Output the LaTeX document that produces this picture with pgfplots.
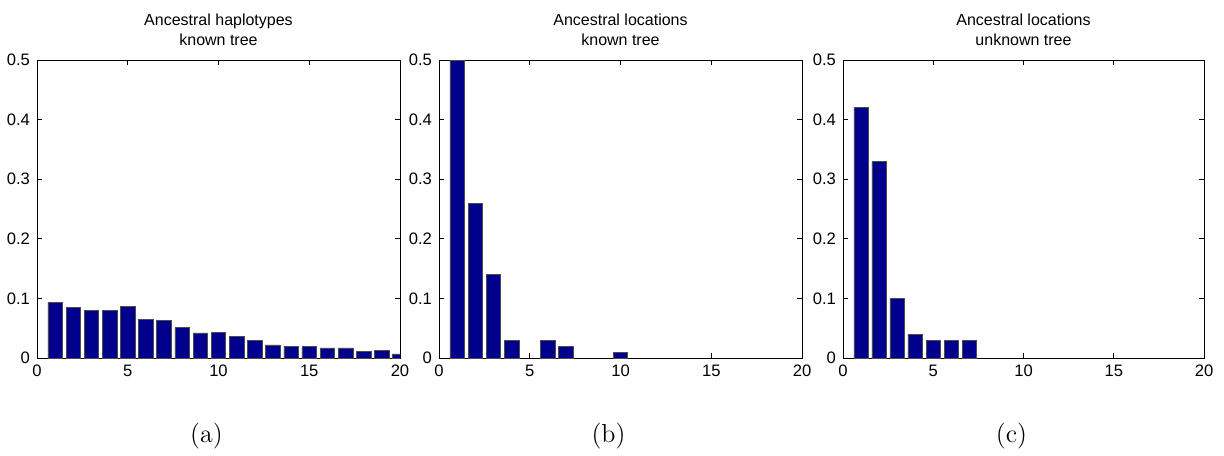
\documentclass[border=0pt]{standalone}
\usepackage{fontspec}
\newfontfamily\arial{Liberation Sans}
\usepackage{pgfplots}
\pgfplotsset{compat=1.18}

\definecolor{barblue}{RGB}{0,0,140}

\pgfplotsset{
  histo/.style={
    scale only axis,
    width=181.5pt, height=149pt,
    xmin=0, xmax=20, ymin=0, ymax=0.5,
    xtick={0,5,10,15,20},
    ytick={0,0.1,0.2,0.3,0.4,0.5},
    tick align=inside,
    major tick length=2.5pt,
    axis line style={line width=0.5pt},
    every tick/.style={black, line width=0.4pt},
    tick label style={font=\arial\fontsize{8.3}{9}\selectfont},
    /pgf/number format/assume math mode=true,
    yticklabel style={/pgf/number format/fixed, /pgf/number format/precision=1},
    title style={align=center, font=\arial\fontsize{8}{10}\selectfont,
      at={(0.5,1)}, anchor=south, inner sep=0pt, yshift=1pt},
    xlabel style={font=\fontsize{13}{15}\selectfont,
      at={(axis description cs:0.5,0)}, anchor=center, yshift=-39pt, xshift=-6pt},
  },
  hbar/.style={ybar, bar width=0.8, fill=barblue, draw=black!70, line width=0.3pt},
}

\begin{document}
\begin{tikzpicture}
\path[use as bounding box] (0,0) rectangle (612pt,227.5pt);

\begin{axis}[histo, at={(18.5pt,48.5pt)}, anchor=south west,
  title={Ancestral haplotypes\\known tree}, xlabel={(a)}]
\addplot[hbar] coordinates {
  (1,0.093) (2,0.085) (3,0.080) (4,0.080) (5,0.086)
  (6,0.065) (7,0.063) (8,0.051) (9,0.042) (10,0.043)
  (11,0.036) (12,0.029) (13,0.022) (14,0.020) (15,0.019)
  (16,0.017) (17,0.017) (18,0.011) (19,0.013) (20,0.007)};
\end{axis}

\begin{axis}[histo, at={(219.5pt,48.5pt)}, anchor=south west,
  title={Ancestral locations\\known tree}, xlabel={(b)}]
\addplot[hbar] coordinates {
  (1,0.50) (2,0.26) (3,0.14) (4,0.03) (6,0.03) (7,0.02) (10,0.01)};
\end{axis}

\begin{axis}[histo, width=180.5pt, at={(421.5pt,48.5pt)}, anchor=south west,
  title={Ancestral locations\\unknown tree}, xlabel={(c)}]
\addplot[hbar] coordinates {
  (1,0.42) (2,0.33) (3,0.10) (4,0.04) (5,0.03) (6,0.03) (7,0.03)};
\end{axis}
\end{tikzpicture}
\end{document}
